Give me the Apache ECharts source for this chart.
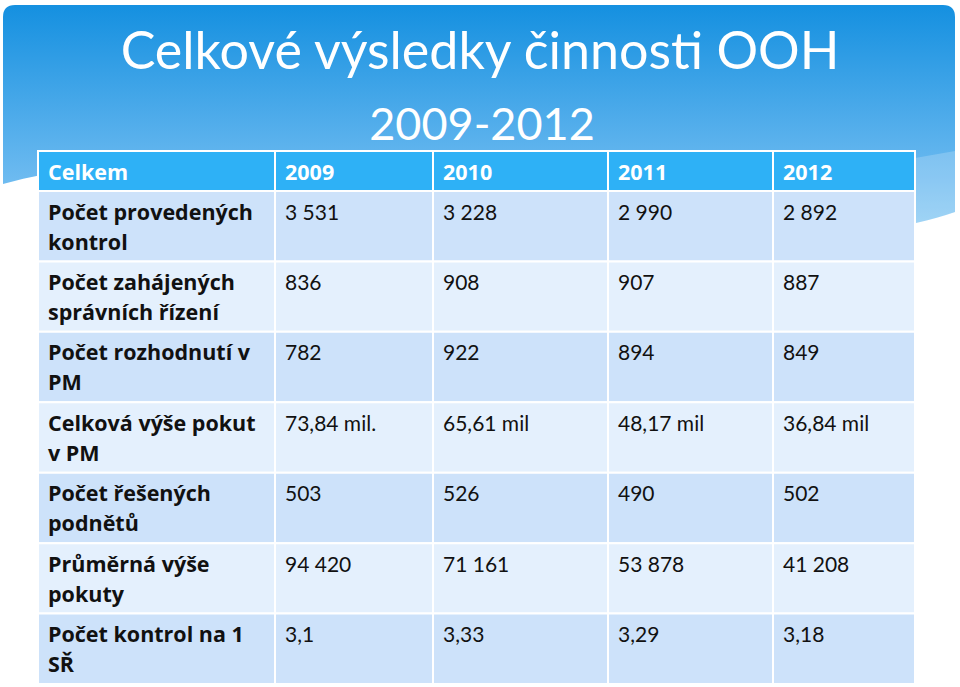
<!DOCTYPE html>
<html>
<head>
<meta charset="utf-8">
<script src="https://cdn.jsdelivr.net/npm/echarts@6/dist/echarts.min.js"></script>
<style>
  html, body { margin: 0; padding: 0; background: #fff; }
  #main { width: 960px; height: 687px; }
</style>
</head>
<body>
<div id="main"></div>
<script>
  // table content
  const headerLabel = 'Celkem'
  const years = ['2009', '2010', '2011', '2012']
  const rowLabels = [
    'Počet provedených\nkontrol',
    'Počet zahájených\nsprávních řízení',
    'Počet rozhodnutí v\nPM',
    'Celková výše pokut\nv PM',
    'Počet řešených\npodnětů',
    'Průměrná výše\npokuty',
    'Počet kontrol na 1\nSŘ'
  ]
  const values2009 = ['3 531', '836', '782', '73,84 mil.', '503', '94 420', '3,1']
  const values2010 = ['3 228', '908', '922', '65,61 mil', '526', '71 161', '3,33']
  const values2011 = ['2 990', '907', '894', '48,17 mil', '490', '53 878', '3,29']
  const values2012 = ['2 892', '887', '849', '36,84 mil', '502', '41 208', '3,18']

  // layout (axis units = px inside the grid)
  const colEdges = [0, 237, 395, 570, 735, 877]
  const headerH = 40
  const rowH = 70.4

  const columns = [rowLabels, values2009, values2010, values2011, values2012]
  const headers = [headerLabel].concat(years)

  let cells = []
  for (let c = 0; c < columns.length; c++) {
    cells.push([c, -1])
    for (let r = 0; r < rowLabels.length; r++) {
      cells.push([c, r])
    }
  }

  function rowTop(r) {
    return r < 0 ? 0 : headerH + r * rowH
  }
  function rowBottom(r) {
    return r < 0 ? headerH : headerH + (r + 1) * rowH
  }

  const chart = echarts.init(document.getElementById('main'), null, { renderer: 'svg' })

  chart.setOption({
    animation: false,
    backgroundColor: '#fff',
    graphic: [
      {
        type: 'text',
        z: 100,
        x: 480,
        y: 49,
        style: {
          text: 'Celkové výsledky činnosti OOH',
          fill: '#fff',
          fontFamily: 'Lato',
          fontSize: 52,
          align: 'center',
          verticalAlign: 'middle'
        }
      },
      {
        type: 'text',
        z: 100,
        x: 482,
        y: 123,
        style: {
          text: '2009-2012',
          fill: '#fff',
          fontFamily: 'Lato',
          fontSize: 45,
          align: 'center',
          verticalAlign: 'middle'
        }
      }
    ],
    grid: {
      left: 38,
      right: 45,
      top: 151,
      bottom: 3
    },
    xAxis: {
      type: 'value',
      min: 0,
      max: colEdges[colEdges.length - 1],
      show: false
    },
    yAxis: {
      type: 'value',
      inverse: true,
      min: 0,
      max: headerH + rowLabels.length * rowH,
      show: false
    },
    series: [
      {
        // slide background wave
        type: 'custom',
        z: 0,
        silent: true,
        data: [[0, 0]],
        renderItem: function () {
          return {
            type: 'group',
            children: [
              {
                type: 'path',
                shape: {
                  pathData: 'M3,17 Q3,5 15,5 L943,5 Q955,5 955,17 L955,212 C700,300 300,100 3,184 Z'
                },
                style: {
                  fill: {
                    type: 'linear', x: 0, y: 0, x2: 0, y2: 1,
                    colorStops: [
                      { offset: 0, color: '#1590e0' },
                      { offset: 0.75, color: '#6cbaf0' },
                      { offset: 1, color: '#8fcdf4' }
                    ]
                  }
                }
              },
              {
                type: 'path',
                shape: {
                  pathData: 'M915,158 L955,151 L955,212 L915,227 Z'
                },
                style: { fill: 'rgba(255,255,255,0.2)' }
              }
            ]
          }
        }
      },
      {
        type: 'custom',
        z: 2,
        data: cells,
        renderItem: function (params, api) {
          const c = api.value(0)
          const r = api.value(1)
          const p0 = api.coord([colEdges[c], rowTop(r)])
          const p1 = api.coord([colEdges[c + 1], rowBottom(r)])
          let fill = '#e4f0fd'
          if (r < 0) {
            fill = '#2eb1f6'
          } else if (r % 2 === 0) {
            fill = '#cde2fa'
          }
          const isHeader = r < 0
          const isBold = isHeader || c === 0
          const text = isHeader ? headers[c] : columns[c][r]
          return {
            type: 'group',
            children: [
              {
                type: 'rect',
                shape: { x: p0[0], y: p0[1], width: p1[0] - p0[0], height: p1[1] - p0[1] },
                style: { fill: fill, stroke: '#fff', lineWidth: 2 }
              },
              {
                type: 'text',
                x: p0[0] + 10,
                y: p0[1] + 5,
                style: {
                  text: text,
                  fill: isHeader ? '#fff' : '#111',
                  fontFamily: isBold ? 'Open Sans' : 'Lato',
                  fontSize: isBold ? 21.5 : 21,
                  fontWeight: isBold ? 'bold' : 'normal',
                  lineHeight: 30,
                  align: 'left',
                  verticalAlign: 'top'
                }
              }
            ]
          }
        }
      }
    ]
  })
</script>
</body>
</html>
